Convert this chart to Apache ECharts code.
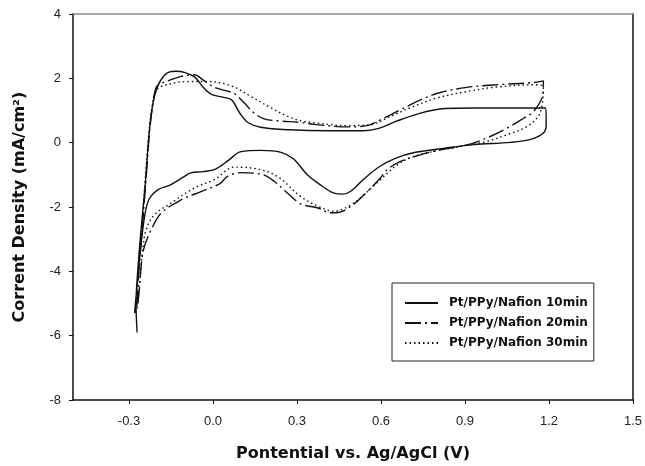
<!DOCTYPE html>
<html>
<head>
<meta charset="utf-8">
<script src="https://cdn.jsdelivr.net/npm/echarts@6/dist/echarts.min.js"></script>
<style>
  html, body { margin: 0; padding: 0; background: #fff; }
  #main { width: 645px; height: 466px; }
</style>
</head>
<body>
<div id="main"></div>
<script>
// CV curves, [potential V, current density mA/cm2], traced around each loop
const names = ['Pt/PPy/Nafion 10min', 'Pt/PPy/Nafion 20min', 'Pt/PPy/Nafion 30min'];
const xTicks = [-0.3, 0.0, 0.3, 0.6, 0.9, 1.2, 1.5];
const yTicks = [4, 2, 0, -2, -4, -6, -8];

const cv10 = [
  [-0.271, -5.9], [-0.275, -5.0], [-0.268, -3.9], [-0.258, -2.8], [-0.242, -1.3],
  [-0.228, 0.3], [-0.215, 1.2], [-0.198, 1.75], [-0.175, 2.08], [-0.155, 2.2],
  [-0.132, 2.22], [-0.1, 2.18], [-0.064, 2.03], [-0.035, 1.72], [-0.006, 1.5],
  [0.038, 1.41], [0.067, 1.33], [0.097, 0.9], [0.126, 0.62], [0.17, 0.48],
  [0.272, 0.4], [0.419, 0.37], [0.536, 0.37], [0.595, 0.45], [0.653, 0.66],
  [0.741, 0.92], [0.829, 1.06], [0.932, 1.08], [1.078, 1.08], [1.188, 1.08],
  [1.19, 0.55], [1.18, 0.3], [1.137, 0.11], [1.063, 0.01], [0.932, -0.06],
  [0.829, -0.17], [0.712, -0.32], [0.653, -0.48], [0.595, -0.74], [0.536, -1.15],
  [0.492, -1.51], [0.463, -1.6], [0.432, -1.57], [0.375, -1.26], [0.337, -1.0],
  [0.287, -0.5], [0.243, -0.3], [0.171, -0.24], [0.1, -0.28], [0.055, -0.55],
  [0.009, -0.82], [-0.035, -0.9], [-0.079, -0.94], [-0.108, -1.08], [-0.152, -1.31],
  [-0.196, -1.46], [-0.226, -1.72], [-0.24, -2.09], [-0.251, -2.71], [-0.262, -3.6],
  [-0.273, -4.6], [-0.28, -5.3]
];

const cv20 = [
  [-0.272, -5.1], [-0.265, -4.0], [-0.252, -2.6], [-0.238, -1.0], [-0.226, 0.4],
  [-0.214, 1.25], [-0.203, 1.72], [-0.185, 1.84], [-0.161, 1.92], [-0.114, 2.06],
  [-0.067, 2.11], [-0.031, 1.92], [0.005, 1.72], [0.052, 1.6], [0.076, 1.53],
  [0.112, 1.23], [0.147, 0.92], [0.183, 0.74], [0.23, 0.68], [0.313, 0.63],
  [0.361, 0.57], [0.48, 0.49], [0.551, 0.53], [0.598, 0.71], [0.658, 0.97],
  [0.741, 1.33], [0.812, 1.56], [0.907, 1.72], [1.014, 1.8], [1.145, 1.87],
  [1.18, 1.92], [1.178, 1.5], [1.145, 0.97], [1.109, 0.76], [1.05, 0.45],
  [0.979, 0.15], [0.907, -0.07], [0.812, -0.22], [0.741, -0.38], [0.67, -0.58],
  [0.622, -0.84], [0.598, -1.1], [0.551, -1.52], [0.507, -1.88], [0.448, -2.17],
  [0.419, -2.18], [0.375, -2.03], [0.313, -1.9], [0.258, -1.5], [0.218, -1.2],
  [0.18, -1.0], [0.1, -0.93], [0.052, -1.05], [0.023, -1.28], [-0.043, -1.52],
  [-0.114, -1.78], [-0.185, -2.19], [-0.221, -2.71], [-0.245, -3.23], [-0.255, -3.7],
  [-0.262, -4.47], [-0.27, -5.15]
];

const cv30 = [
  [-0.274, -5.0], [-0.266, -3.9], [-0.253, -2.5], [-0.24, -0.9], [-0.228, 0.4],
  [-0.216, 1.2], [-0.205, 1.6], [-0.185, 1.75], [-0.155, 1.82], [-0.126, 1.88],
  [-0.078, 1.9], [-0.019, 1.9], [0.064, 1.77], [0.135, 1.44], [0.207, 1.08],
  [0.266, 0.82], [0.313, 0.68], [0.361, 0.62], [0.48, 0.53], [0.563, 0.56],
  [0.634, 0.82], [0.717, 1.13], [0.8, 1.39], [0.907, 1.59], [1.014, 1.73],
  [1.145, 1.8], [1.18, 1.75], [1.168, 0.92], [1.121, 0.5], [1.05, 0.25],
  [0.979, 0.04], [0.883, -0.12], [0.788, -0.27], [0.717, -0.43], [0.658, -0.69],
  [0.598, -1.15], [0.539, -1.62], [0.49, -1.95], [0.434, -2.13], [0.38, -2.0],
  [0.313, -1.67], [0.23, -1.05], [0.159, -0.82], [0.076, -0.76], [0.005, -1.15],
  [-0.067, -1.41], [-0.15, -1.88], [-0.209, -2.24], [-0.239, -2.71], [-0.252, -3.4],
  [-0.262, -4.3], [-0.272, -5.0]
];

const seriesData = [cv10, cv20, cv30];
const dashTypes = ['solid', [16, 4, 2, 4], [1.5, 3]];

const chart = echarts.init(document.getElementById('main'));
const font = 'Liberation Sans, Arial, sans-serif';
const wideFont = 'DejaVu Sans, Verdana, sans-serif';

const option = {
  animation: false,
  backgroundColor: '#fff',
  textStyle: { fontFamily: font },
  grid: { left: 73, right: 12, top: 14, bottom: 66, outerBoundsMode: 'none' },
  legend: {
    data: names,
    orient: 'vertical',
    left: 392,
    top: 283,
    itemWidth: 33,
    itemHeight: 14,
    itemGap: 8,
    padding: [14, 6, 12, 12],
    borderColor: '#222',
    borderWidth: 1,
    itemStyle: { opacity: 0 },
    textStyle: {
      fontFamily: wideFont, fontWeight: 'bold', fontSize: 12, color: '#111',
      padding: [0, 0, 0, 6]
    }
  },
  xAxis: [
    {
      type: 'value',
      min: -0.5,
      max: 1.5,
      name: 'Pontential vs. Ag/AgCl (V)',
      nameLocation: 'middle',
      nameGap: 46,
      nameTextStyle: { fontFamily: wideFont, fontWeight: 'bold', fontSize: 16, color: '#111' },
      axisLine: { onZero: false, lineStyle: { color: '#111', width: 1.5 } },
      axisTick: { show: true, length: 4, customValues: xTicks, lineStyle: { color: '#111' } },
      axisLabel: {
        customValues: xTicks,
        margin: 15,
        fontSize: 13,
        color: '#222',
        formatter: function(v) { return v.toFixed(1); }
      },
      splitLine: { show: false }
    },
    {
      type: 'value',
      position: 'top',
      min: -0.5,
      max: 1.5,
      axisLine: { show: true, onZero: false, lineStyle: { color: '#888', width: 1.5, type: [2, 1] } },
      axisTick: { show: false },
      axisLabel: { show: false },
      splitLine: { show: false }
    }
  ],
  yAxis: [
    {
      type: 'value',
      min: -8,
      max: 4,
      interval: 2,
      name: 'Corrent Density (mA/cm²)',
      nameLocation: 'middle',
      nameGap: 45,
      nameTextStyle: { fontFamily: wideFont, fontWeight: 'bold', fontSize: 16, color: '#111' },
      axisLine: { show: true, onZero: false, lineStyle: { color: '#111', width: 1.5 } },
      axisTick: { show: true, length: 4, customValues: yTicks, lineStyle: { color: '#111' } },
      axisLabel: { margin: 12, fontSize: 13, color: '#222' },
      splitLine: { show: false }
    },
    {
      type: 'value',
      position: 'right',
      min: -8,
      max: 4,
      interval: 2,
      axisLine: { show: true, onZero: false, lineStyle: { color: '#111', width: 1.5 } },
      axisTick: { show: false },
      axisLabel: { show: false },
      splitLine: { show: false }
    }
  ],
  series: seriesData.map(function(d, i) {
    return {
      name: names[i],
      type: 'line',
      data: d,
      smooth: 0.35,
      showSymbol: false,
      symbol: 'none',
      lineStyle: { color: '#111', width: 1.4, type: dashTypes[i] },
      itemStyle: { color: '#111' }
    };
  })
};

chart.setOption(option);
</script>
</body>
</html>
